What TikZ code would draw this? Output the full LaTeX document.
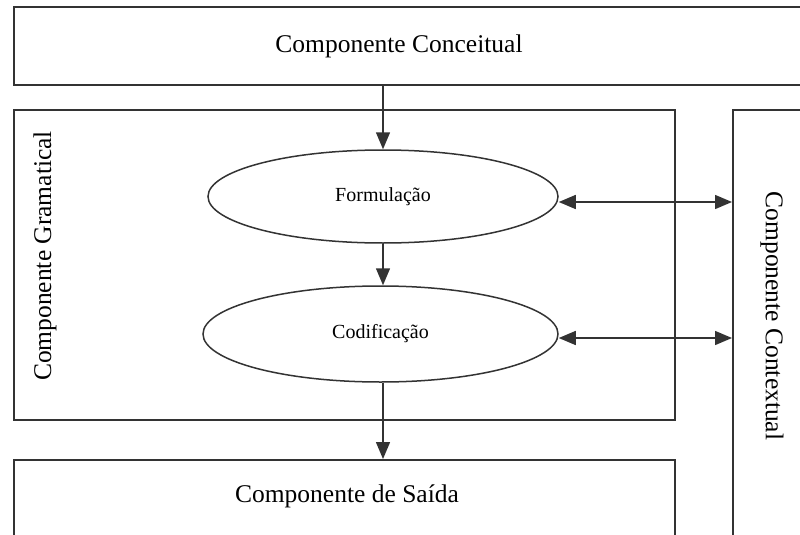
\documentclass[tikz,border=0pt]{standalone}
\usepackage{fontspec}
\setmainfont{Liberation Serif}
\usetikzlibrary{arrows.meta,shapes.geometric}
\definecolor{lineg}{HTML}{333333}
\begin{document}
\begin{tikzpicture}[x=1pt,y=-1pt,
  boxed/.style={draw=lineg,line width=2pt,rectangle,inner sep=0pt},
  ell/.style={draw=lineg,line width=1.5pt,ellipse,inner sep=0pt},
  big/.style={font=\fontsize{25.5}{28}\selectfont,text=black,inner sep=0pt},
  small/.style={font=\fontsize{20}{22}\selectfont,text=black},
  tip/.style={Triangle[length=17pt,width=14pt]},
  arr/.style={-{Triangle[length=17pt,width=14pt]},draw=lineg,line width=1.5pt},
  dbl/.style={{Triangle[length=17pt,width=14pt]}-{Triangle[length=17pt,width=14pt]},draw=lineg,line width=1.5pt}]
\clip (0,0) rectangle (800,535);
\fill[white] (0,0) rectangle (800,535);
% boxes
\node[boxed,minimum width=796pt,minimum height=78pt] (Conc) at (412,46) {};
\node[boxed,minimum width=661pt,minimum height=310pt] (Gram) at (344.5,265) {};
\node[boxed,minimum width=100pt,minimum height=450pt] (Ctx) at (783,335) {};
\node[boxed,minimum width=661pt,minimum height=110pt] (Said) at (344.5,515) {};
% labels
\node[big] (tConc) at (399,46) {Componente Conceitual};
\node[big,rotate=90] (tGram) at (45,256) {Componente Gramatical};
\node[big,rotate=-90] (tCtx) at (772,316) {Componente Contextual};
\node[big] (tSaid) at (347,496) {Componente de Saída};
% ellipses
\node[ell,minimum width=350pt,minimum height=93pt,small] (F) at (383,196.5) {Formulação};
\node[ell,minimum width=355pt,minimum height=96pt,small] (C) at (380.5,334) {Codificação};
% arrows
\draw[arr] (Conc.south -| F.north) -- (F.north);
\draw[arr] (F.south) -- (C.north -| F.south);
\draw[arr] (C.south -| F.south) -- (Said.north -| F.south);
\coordinate (f1) at ([yshift=-5.5pt]F.east);
\coordinate (c1) at ([yshift=-4pt]C.east);
\draw[dbl] (f1) -- (f1 -| Ctx.west);
\draw[dbl] (c1) -- (c1 -| Ctx.west);
\end{tikzpicture}
\end{document}
